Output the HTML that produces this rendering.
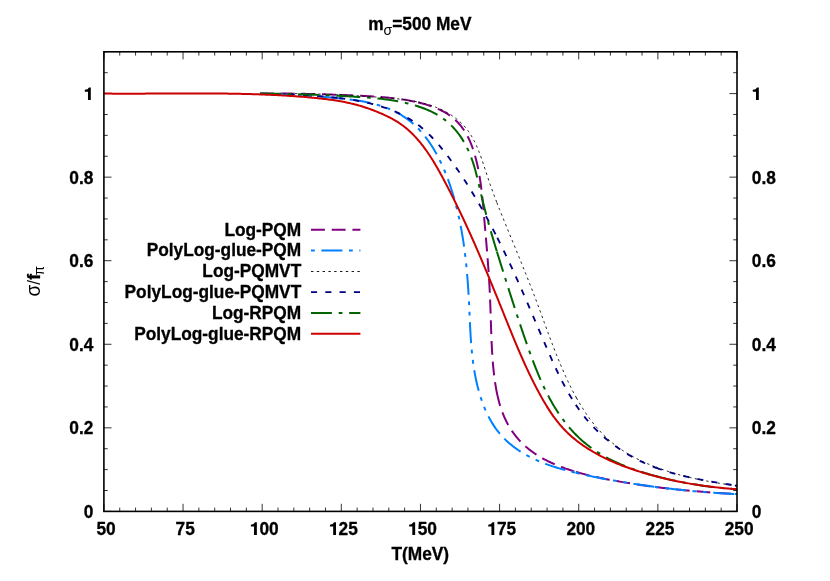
<!DOCTYPE html>
<html><head><meta charset="utf-8"><title>plot</title>
<style>
html,body{margin:0;padding:0;background:#fff;overflow:hidden}
svg{display:block;will-change:transform}
text{font-family:"Liberation Sans",sans-serif;font-weight:bold;font-size:17.3px;fill:#000;stroke:#000;stroke-width:0.3px}
.sym{stroke:none}
.sym{font-weight:normal}
</style></head><body>
<svg width="830" height="581" viewBox="0 0 830 581">
<rect width="830" height="581" fill="#fff"/>
<path d="M103.90 511.4v-7.6M103.90 51.8v7.6M119.73 511.4v-3.8M119.73 51.8v3.8M135.56 511.4v-3.8M135.56 51.8v3.8M151.38 511.4v-3.8M151.38 51.8v3.8M167.21 511.4v-3.8M167.21 51.8v3.8M183.04 511.4v-7.6M183.04 51.8v7.6M198.87 511.4v-3.8M198.87 51.8v3.8M214.69 511.4v-3.8M214.69 51.8v3.8M230.52 511.4v-3.8M230.52 51.8v3.8M246.35 511.4v-3.8M246.35 51.8v3.8M262.18 511.4v-7.6M262.18 51.8v7.6M278.00 511.4v-3.8M278.00 51.8v3.8M293.83 511.4v-3.8M293.83 51.8v3.8M309.66 511.4v-3.8M309.66 51.8v3.8M325.49 511.4v-3.8M325.49 51.8v3.8M341.31 511.4v-7.6M341.31 51.8v7.6M357.14 511.4v-3.8M357.14 51.8v3.8M372.97 511.4v-3.8M372.97 51.8v3.8M388.80 511.4v-3.8M388.80 51.8v3.8M404.62 511.4v-3.8M404.62 51.8v3.8M420.45 511.4v-7.6M420.45 51.8v7.6M436.28 511.4v-3.8M436.28 51.8v3.8M452.11 511.4v-3.8M452.11 51.8v3.8M467.93 511.4v-3.8M467.93 51.8v3.8M483.76 511.4v-3.8M483.76 51.8v3.8M499.59 511.4v-7.6M499.59 51.8v7.6M515.42 511.4v-3.8M515.42 51.8v3.8M531.24 511.4v-3.8M531.24 51.8v3.8M547.07 511.4v-3.8M547.07 51.8v3.8M562.90 511.4v-3.8M562.90 51.8v3.8M578.73 511.4v-7.6M578.73 51.8v7.6M594.55 511.4v-3.8M594.55 51.8v3.8M610.38 511.4v-3.8M610.38 51.8v3.8M626.21 511.4v-3.8M626.21 51.8v3.8M642.03 511.4v-3.8M642.03 51.8v3.8M657.86 511.4v-7.6M657.86 51.8v7.6M673.69 511.4v-3.8M673.69 51.8v3.8M689.52 511.4v-3.8M689.52 51.8v3.8M705.35 511.4v-3.8M705.35 51.8v3.8M721.17 511.4v-3.8M721.17 51.8v3.8M737.00 511.4v-7.6M737.00 51.8v7.6M103.9 511.40h7.6M737.0 511.40h-7.6M103.9 490.51h3.8M737.0 490.51h-3.8M103.9 469.62h3.8M737.0 469.62h-3.8M103.9 448.73h3.8M737.0 448.73h-3.8M103.9 427.84h7.6M737.0 427.84h-7.6M103.9 406.95h3.8M737.0 406.95h-3.8M103.9 386.05h3.8M737.0 386.05h-3.8M103.9 365.16h3.8M737.0 365.16h-3.8M103.9 344.27h7.6M737.0 344.27h-7.6M103.9 323.38h3.8M737.0 323.38h-3.8M103.9 302.49h3.8M737.0 302.49h-3.8M103.9 281.60h3.8M737.0 281.60h-3.8M103.9 260.71h7.6M737.0 260.71h-7.6M103.9 239.82h3.8M737.0 239.82h-3.8M103.9 218.93h3.8M737.0 218.93h-3.8M103.9 198.04h3.8M737.0 198.04h-3.8M103.9 177.15h7.6M737.0 177.15h-7.6M103.9 156.25h3.8M737.0 156.25h-3.8M103.9 135.36h3.8M737.0 135.36h-3.8M103.9 114.47h3.8M737.0 114.47h-3.8M103.9 93.58h7.6M737.0 93.58h-7.6M103.9 72.69h3.8M737.0 72.69h-3.8M103.9 51.80h3.8M737.0 51.80h-3.8" stroke="#000" stroke-width="0.8" fill="none"/>
<g><path d="M259.95 93.60L261.44 93.60L262.94 93.60L264.44 93.60L265.94 93.60L267.44 93.60L268.94 93.60L270.44 93.60L271.94 93.60L273.44 93.60L274.94 93.60L276.44 93.60L277.94 93.60L279.44 93.60L280.94 93.60L282.44 93.60L283.94 93.60L285.44 93.60L286.94 93.60L288.44 93.60L289.94 93.60L291.44 93.62L292.94 93.65L294.44 93.67L295.94 93.70L297.44 93.72L298.94 93.75L300.44 93.78L301.93 93.81L303.43 93.84L304.93 93.87L306.43 93.90L307.93 93.93L309.43 93.97L310.93 94.00L312.43 94.04L313.93 94.07L315.43 94.11L316.93 94.15L318.43 94.19L319.93 94.23L321.43 94.27L322.93 94.32L324.43 94.36L325.92 94.41L327.42 94.45L328.92 94.50L330.42 94.55L331.92 94.60L333.42 94.65L334.92 94.70L336.42 94.76L337.92 94.81L339.42 94.87L339.92 94.89" fill="none" stroke="#800080" stroke-width="2" stroke-dasharray="13.9 6.8" stroke-dashoffset="0"/>
<path d="M339.42 94.87L340.92 94.92L342.42 94.98L343.92 95.04L345.41 95.10L346.91 95.17L348.41 95.23L349.91 95.29L351.41 95.36L352.91 95.43L354.41 95.50L355.91 95.57L357.41 95.64L358.91 95.71L360.40 95.79L361.90 95.86L363.40 95.94L364.90 96.02L366.40 96.10L367.90 96.18L369.40 96.27L370.90 96.35L372.40 96.44L373.89 96.54L375.39 96.63L376.89 96.73L378.39 96.84L379.89 96.95L381.38 97.06L382.88 97.18L384.38 97.31L385.88 97.44L387.37 97.58L388.87 97.73L390.36 97.88L391.86 98.04L393.35 98.20L394.85 98.38L396.34 98.56L397.83 98.76L399.33 98.96L400.82 99.17L402.31 99.39L403.80 99.62L405.29 99.86L406.78 100.11L408.27 100.38L409.76 100.65L411.25 100.94L412.74 101.24L414.22 101.55L415.71 101.87L417.19 102.21L418.68 102.56" fill="none" stroke="#800080" stroke-width="2" stroke-dasharray="13.9 6.8" stroke-dashoffset="0"/>
<path d="M418.18 102.44L419.67 102.80L421.14 103.18L422.62 103.57L424.09 103.98L425.55 104.40L427.01 104.84L428.46 105.30L429.90 105.78L431.33 106.27L432.75 106.79L434.16 107.32L435.56 107.88L436.94 108.46L438.31 109.06L439.67 109.68L441.01 110.33L442.33 111.00L443.64 111.70L444.92 112.42L446.19 113.17L447.44 113.94L448.66 114.74L449.87 115.57L451.05 116.43L452.20 117.31L453.33 118.23L454.44 119.17L455.52 120.15L456.57 121.16L457.59 122.20L458.59 123.26L459.56 124.36L460.50 125.48L461.42 126.63L462.30 127.80L463.16 128.99L464.00 130.21L464.80 131.45L465.58 132.72L466.34 134.00L467.06 135.30L467.76 136.61L468.43 137.95L469.08 139.30L469.70 140.66L470.30 142.04L470.88 143.43L471.43 144.83L471.96 146.24L472.48 147.66L472.97 149.09L473.45 150.53L473.90 151.97L474.35 153.41L474.77 154.86L475.18 156.32L475.58 157.78L475.97 159.23L476.34 160.69L476.70 162.16L477.04 163.62L477.38 165.09L477.70 166.56L478.01 168.03L478.31 169.50L478.60 170.98L478.87 172.45L479.14 173.93L479.40 175.41L479.65 176.89L479.89 178.38L480.12 179.86L480.35 181.34L480.56 182.83L480.77 184.32L480.97 185.81L481.16 187.30L481.35 188.79L481.53 190.28L481.71 191.78L481.88 193.27L482.04 194.77L482.20 196.26L482.35 197.76L482.51 199.25L482.65 200.75L482.80 202.25L482.94 203.75L483.08 205.25L483.21 206.75L483.34 208.25L483.48 209.74L483.61 211.24L483.74 212.74L483.87 214.24L483.99 215.74L484.12 217.24L484.25 218.74L484.38 220.24L484.51 221.74L484.64 223.24L484.77 224.74L484.90 226.24L485.03 227.74L485.16 229.23L485.29 230.73L485.42 232.23L485.55 233.73L485.68 235.23L485.81 236.72L485.94 238.22L486.07 239.72L486.20 241.21L486.32 242.71L486.45 244.21L486.57 245.71L486.70 247.20L486.82 248.70L486.95 250.19L487.07 251.69L487.19 253.19L487.31 254.68L487.43 256.18L487.55 257.67L487.66 259.17L487.78 260.67L487.89 262.16L488.00 263.66L488.11 265.15L488.22 266.65L488.33 268.14L488.44 269.64L488.54 271.13L488.64 272.63L488.74 274.12L488.84 275.62L488.94 277.11L489.03 278.61L489.12 280.10L489.21 281.59L489.30 283.09L489.39 284.58L489.47 286.08L489.55 287.57L489.63 289.07L489.71 290.56L489.78 292.05L489.85 293.55L489.92 295.04L489.98 296.54L490.05 298.03L490.11 299.52L490.17 301.02L490.22 302.51L490.28 304.00L490.33 305.50L490.39 306.99L490.44 308.49L490.49 309.98L490.54 311.47L490.59 312.97L490.63 314.46L490.68 315.96L490.73 317.45L490.78 318.95L490.82 320.44L490.87 321.94L490.92 323.43L490.97 324.93L491.01 326.42L491.06 327.92L491.11 329.41L491.17 330.91L491.22 332.40L491.27 333.90L491.33 335.40L491.38 336.89L491.44 338.39L491.50 339.89L491.57 341.39L491.63 342.88L491.70 344.38L491.78 345.88L491.85 347.38L491.93 348.88L492.01 350.38L492.10 351.88L492.19 353.38L492.29 354.88L492.39 356.38L492.49 357.88L492.60 359.38L492.72 360.88L492.84 362.38L492.96 363.89L493.09 365.39L493.23 366.89L493.38 368.40L493.53 369.90L493.69 371.41L493.85 372.91L494.03 374.42L494.21 375.92L494.40 377.43L494.59 378.94L494.80 380.44L495.01 381.95L495.24 383.45L495.47 384.96L495.72 386.46L495.97 387.95L496.24 389.45L496.52 390.94L496.82 392.43L496.92 392.93" fill="none" stroke="#800080" stroke-width="2" stroke-dasharray="13.9 6.8" stroke-dashoffset="0"/>
<path d="M496.82 392.43L497.12 393.92L497.45 395.40L497.78 396.87L498.13 398.34L498.49 399.81L498.87 401.27L499.27 402.72L499.68 404.17L500.11 405.61L500.56 407.04L501.03 408.46L501.51 409.88L502.01 411.29L502.54 412.69L503.08 414.07L503.64 415.45L504.22 416.82L504.83 418.18L505.46 419.53L506.11 420.87L506.78 422.19L507.47 423.51L508.19 424.81L508.93 426.09L509.69 427.37L510.47 428.63L511.28 429.88L512.10 431.11L512.95 432.33L513.81 433.53L514.70 434.72L515.61 435.89L516.54 437.04L517.49 438.18L518.46 439.30L519.45 440.41L520.46 441.49L521.49 442.56L522.53 443.61L523.60 444.64L524.69 445.65L525.79 446.64L526.92 447.61L528.06 448.56L529.22 449.49L530.40 450.41L531.59 451.30L532.80 452.17L534.02 453.03L535.26 453.87L536.51 454.69L537.78 455.49L539.05 456.28L540.34 457.05L541.65 457.80L542.96 458.54L544.28 459.26L545.62 459.96L546.96 460.65L548.31 461.32L549.67 461.98L551.04 462.63L552.42 463.26L553.80 463.87L555.19 464.47L556.58 465.06L557.98 465.64L559.38 466.20L560.78 466.75L562.19 467.28L563.60 467.81L565.02 468.32L566.43 468.82L567.85 469.31L569.28 469.79L570.70 470.26L572.13 470.71L573.56 471.16L574.99 471.60L576.43 472.02" fill="none" stroke="#800080" stroke-width="2" stroke-dasharray="13.9 6.8" stroke-dashoffset="0"/>
<path d="M575.95 471.88L577.38 472.30L578.82 472.71L580.26 473.12L581.70 473.51L583.15 473.90L584.59 474.28L586.04 474.64L587.49 475.01L588.94 475.36L590.40 475.71L591.85 476.05L593.31 476.39L594.77 476.71L596.23 477.04L597.69 477.35L599.15 477.67L600.61 477.97L602.08 478.28L603.54 478.57L605.01 478.87L606.47 479.16L607.94 479.44L609.41 479.73L610.88 480.00L612.35 480.28L613.82 480.55L615.30 480.82L616.77 481.09L618.24 481.35L619.72 481.61L621.19 481.87L622.67 482.12L624.14 482.37L625.62 482.62L627.10 482.87L628.58 483.11L630.05 483.35L631.53 483.58L633.01 483.81L634.49 484.04L635.98 484.27L637.46 484.50L638.94 484.72L640.42 484.94L641.91 485.15L643.39 485.36L644.88 485.57L646.36 485.78L647.85 485.99L649.33 486.19L650.82 486.39L652.31 486.58L653.79 486.78L655.28 486.97L655.78 487.03" fill="none" stroke="#800080" stroke-width="2" stroke-dasharray="13.9 6.8" stroke-dashoffset="0"/>
<path d="M655.28 486.97L656.77 487.16L658.26 487.34L659.75 487.53L661.24 487.71L662.73 487.89L664.22 488.06L665.71 488.24L667.20 488.41L668.69 488.58L670.18 488.74L671.68 488.91L673.17 489.07L674.66 489.23L676.16 489.38L677.65 489.54L679.14 489.69L680.64 489.84L682.13 489.99L683.63 490.14L685.12 490.28L686.62 490.42L688.11 490.56L689.61 490.70L691.10 490.83L692.60 490.97L694.09 491.10L695.59 491.23L697.09 491.36L698.58 491.48L700.08 491.61L701.58 491.73L703.07 491.85L704.57 491.96L706.07 492.08L707.56 492.19L709.06 492.31L710.56 492.42L712.05 492.53L713.55 492.63L715.05 492.74L716.54 492.84L718.04 492.95L719.54 493.05L721.04 493.15L722.53 493.24L724.03 493.34L725.53 493.43L727.02 493.53L728.52 493.62L730.02 493.71L731.51 493.79L733.01 493.88L734.51 493.97L735.50 494.02" fill="none" stroke="#800080" stroke-width="2" stroke-dasharray="13.9 6.8" stroke-dashoffset="0"/>
<path d="M735.00 493.99L736.50 494.08L737.00 494.11" fill="none" stroke="#800080" stroke-width="2" stroke-dasharray="13.9 6.8" stroke-dashoffset="0"/>
<path d="M259.90 93.77L261.39 93.81L262.87 93.85L264.36 93.88L265.85 93.93L267.33 93.97L268.82 94.01L270.31 94.06L271.79 94.10L273.28 94.15L274.77 94.20L276.26 94.25L277.75 94.31L279.23 94.36L280.72 94.42L282.21 94.48L283.70 94.54L285.19 94.60L286.68 94.67L288.17 94.73L289.66 94.80L291.15 94.87L292.64 94.95L294.14 95.02L295.63 95.10L297.12 95.17L298.62 95.26L300.11 95.34L301.61 95.42L303.10 95.51L304.60 95.60L306.10 95.69L307.60 95.78L309.10 95.88L310.60 95.98L312.10 96.08L313.60 96.18L315.10 96.28L316.61 96.39L318.11 96.50L319.62 96.61L321.13 96.73L322.63 96.84L324.14 96.96L325.65 97.08L327.17 97.21L328.68 97.33L330.19 97.46L331.71 97.60L333.22 97.73L334.74 97.87L336.26 98.01L337.78 98.15L339.30 98.30L339.81 98.35" fill="none" stroke="#0080FF" stroke-width="2" stroke-dasharray="21 6.6 3.8 6.6 3.8 6.6" stroke-dashoffset="38.0"/>
<path d="M339.30 98.30L340.82 98.45L342.34 98.61L343.86 98.77L345.38 98.94L346.90 99.11L348.42 99.29L349.94 99.48L351.45 99.67L352.97 99.88L354.48 100.09L355.99 100.31L357.49 100.54L358.99 100.78L360.49 101.03L361.99 101.29L363.48 101.56L364.97 101.85L366.45 102.15L367.93 102.46L369.40 102.78L370.87 103.12L372.33 103.47L373.78 103.84L375.23 104.22L376.67 104.62L378.11 105.03L379.53 105.46L380.95 105.91L382.37 106.37L383.77 106.85L385.17 107.36L386.56 107.88L387.93 108.42L389.30 108.98L390.66 109.56L392.01 110.16L393.35 110.78L394.68 111.43L396.00 112.09L397.31 112.78L398.60 113.49L399.89 114.23L401.16 114.98L402.42 115.76L403.66 116.55L404.89 117.37L406.11 118.21L407.31 119.07L408.50 119.95L409.67 120.85L410.82 121.78L411.96 122.72L413.08 123.68L414.18 124.67L415.27 125.67L416.34 126.69L417.39 127.74L418.43 128.79L418.77 129.15" fill="none" stroke="#0080FF" stroke-width="2" stroke-dasharray="21 6.6 3.8 6.6 3.8 6.6" stroke-dashoffset="38.0"/>
<path d="M418.43 128.79L419.45 129.87L420.45 130.96L421.44 132.07L422.41 133.20L423.37 134.34L424.31 135.50L425.24 136.67L426.15 137.86L427.05 139.06L427.93 140.27L428.80 141.50L429.65 142.74L430.49 143.99L431.32 145.25L432.13 146.52L432.93 147.80L433.71 149.10L434.48 150.40L435.24 151.71L435.99 153.03L436.72 154.36L437.44 155.70L438.14 157.04L438.84 158.39L439.52 159.74L440.19 161.10L440.85 162.47L441.50 163.84L442.13 165.22L442.76 166.60L443.37 167.98L443.97 169.37L444.56 170.76L445.14 172.16L445.71 173.56L446.27 174.97L446.82 176.38L447.36 177.79L447.90 179.20L448.42 180.62L448.93 182.04L449.43 183.47L449.92 184.89L450.41 186.32L450.88 187.75L451.35 189.19L451.80 190.62L452.25 192.06L452.70 193.50L453.13 194.94L453.56 196.38L453.97 197.82L454.38 199.27L454.79 200.71L455.18 202.16L455.57 203.61L455.95 205.06L456.33 206.51L456.70 207.96L457.05 209.42L457.41 210.87L457.75 212.33L458.09 213.79L458.43 215.24L458.75 216.70L459.07 218.16L459.38 219.63L459.69 221.09L459.99 222.55L460.29 224.02L460.57 225.49L460.86 226.95L461.13 228.42L461.40 229.89L461.67 231.36L461.92 232.83L462.18 234.31L462.42 235.78L462.66 237.26L462.90 238.73L463.13 240.21L463.36 241.68L463.58 243.16L463.79 244.64L464.00 246.12L464.21 247.60L464.41 249.09L464.60 250.57L464.79 252.05L464.98 253.54L465.16 255.02L465.34 256.51L465.51 257.99L465.68 259.48L465.84 260.97L466.00 262.46L466.16 263.95L466.31 265.44L466.46 266.93L466.60 268.42L466.74 269.91L466.87 271.41L467.01 272.90L467.14 274.39L467.26 275.89L467.38 277.38L467.50 278.88L467.62 280.38L467.73 281.87L467.84 283.37L467.94 284.87L468.05 286.37L468.15 287.87L468.25 289.36L468.34 290.86L468.43 292.36L468.52 293.87L468.61 295.37L468.69 296.87L468.78 298.37L468.86 299.87L468.94 301.37L469.01 302.88L469.09 304.38L469.16 305.88L469.23 307.39L469.30 308.89L469.37 310.39L469.44 311.90L469.50 313.40L469.57 314.91L469.64 316.41L469.71 317.92L469.77 319.42L469.84 320.92L469.91 322.43L469.99 323.93L470.06 325.43L470.13 326.94L470.21 328.44L470.29 329.94L470.37 331.44L470.46 332.95L470.55 334.45L470.64 335.95L470.73 337.45L470.83 338.95L470.94 340.45L471.04 341.94L471.15 343.44L471.27 344.94L471.39 346.44L471.52 347.93L471.65 349.42L471.79 350.92L471.94 352.41L472.09 353.90L472.25 355.39L472.41 356.88L472.59 358.37L472.77 359.86L472.95 361.34L473.15 362.83L473.35 364.31L473.57 365.79L473.79 367.28L474.02 368.75L474.25 370.23L474.50 371.71L474.76 373.19L475.03 374.66L475.31 376.13L475.60 377.60L475.90 379.07L476.21 380.54L476.53 382.00L476.86 383.47L477.21 384.93L477.56 386.39L477.93 387.85L478.31 389.30L478.71 390.76L479.12 392.21L479.54 393.66L479.97 395.11L480.42 396.55L480.88 397.99L481.36 399.42L481.85 400.85L482.35 402.27L482.88 403.69L483.41 405.10L483.96 406.50L484.53 407.90L485.12 409.29L485.72 410.66L486.33 412.03L486.97 413.39L487.62 414.74L488.29 416.08L488.98 417.41L489.68 418.73L490.41 420.04L491.15 421.33L491.91 422.61L492.69 423.88L493.49 425.13L494.31 426.37L495.15 427.60L496.00 428.81L496.88 430.00L497.78 431.18" fill="none" stroke="#0080FF" stroke-width="2" stroke-dasharray="21 6.6 3.8 6.6 3.8 6.6" stroke-dashoffset="38.0"/>
<path d="M497.48 430.79L498.40 431.95L499.33 433.10L500.29 434.24L501.27 435.35L502.26 436.45L503.28 437.53L504.32 438.59L505.37 439.64L506.45 440.66L507.54 441.67L508.65 442.67L509.78 443.64L510.92 444.60L512.08 445.54L513.25 446.47L514.44 447.37L515.65 448.26L516.86 449.13L518.09 449.99L519.34 450.83L520.59 451.65L521.86 452.45L523.14 453.23L524.43 454.00L525.73 454.75L527.04 455.49L528.36 456.20L529.69 456.90L531.03 457.59L532.38 458.25L533.73 458.90L535.10 459.54L536.47 460.16L537.84 460.77L539.23 461.36L540.62 461.94L542.02 462.50L543.42 463.05L544.83 463.59L546.25 464.12L547.67 464.63L549.09 465.14L550.52 465.63L551.96 466.11L553.40 466.58L554.84 467.04L556.28 467.49L557.73 467.93L559.18 468.36L560.64 468.79L562.09 469.20L563.55 469.61L565.01 470.01L566.47 470.40L567.94 470.79L569.40 471.17L570.86 471.55L572.33 471.92L573.79 472.28L575.25 472.64L576.23 472.88" fill="none" stroke="#0080FF" stroke-width="2" stroke-dasharray="21 6.6 3.8 6.6 3.8 6.6" stroke-dashoffset="38.0"/>
<path d="M575.74 472.76L577.20 473.11L578.67 473.46L580.13 473.80L581.59 474.14L583.06 474.47L584.52 474.80L585.99 475.13L587.45 475.45L588.91 475.77L590.38 476.08L591.84 476.39L593.31 476.69L594.77 476.99L596.24 477.29L597.70 477.58L599.17 477.87L600.63 478.15L602.10 478.43L603.56 478.71L605.03 478.99L606.50 479.26L607.97 479.53L609.43 479.79L610.90 480.05L612.37 480.31L613.84 480.57L615.31 480.82L616.78 481.08L618.25 481.32L619.73 481.57L621.20 481.81L622.67 482.05L624.15 482.29L625.62 482.53L627.10 482.76L628.57 483.00L630.05 483.23L631.53 483.46L633.01 483.68L634.49 483.91L635.97 484.13L637.45 484.35L638.93 484.57L640.41 484.79L641.89 485.00L643.38 485.21L644.86 485.42L646.35 485.63L647.83 485.84L649.32 486.04L650.80 486.25L652.29 486.45L653.78 486.65L655.27 486.84" fill="none" stroke="#0080FF" stroke-width="2" stroke-dasharray="21 6.6 3.8 6.6 3.8 6.6" stroke-dashoffset="38.0"/>
<path d="M654.77 486.78L656.26 486.97L657.75 487.16L659.24 487.35L660.73 487.54L662.22 487.73L663.71 487.91L665.20 488.09L666.69 488.27L668.18 488.45L669.67 488.63L671.17 488.80L672.66 488.97L674.15 489.14L675.65 489.31L677.14 489.47L678.64 489.63L680.13 489.79L681.63 489.95L683.12 490.11L684.62 490.26L686.11 490.41L687.61 490.56L689.11 490.70L690.60 490.85L692.10 490.99L693.60 491.13L695.09 491.27L696.59 491.40L698.09 491.53L699.58 491.66L701.08 491.79L702.58 491.91L704.08 492.04L705.57 492.16L707.07 492.27L708.57 492.39L710.06 492.50L711.56 492.61L713.06 492.72L714.56 492.82L716.05 492.93L717.55 493.03L719.05 493.13L720.54 493.22L722.04 493.31L723.54 493.40L725.03 493.49L726.53 493.58L728.03 493.66L729.52 493.74L731.02 493.82L732.51 493.89L734.01 493.96L735.50 494.03" fill="none" stroke="#0080FF" stroke-width="2" stroke-dasharray="21 6.6 3.8 6.6 3.8 6.6" stroke-dashoffset="38.0"/>
<path d="M735.01 494.01L736.50 494.08L737.00 494.10" fill="none" stroke="#0080FF" stroke-width="2" stroke-dasharray="21 6.6 3.8 6.6 3.8 6.6" stroke-dashoffset="38.0"/>
<path d="M260.27 93.60L261.77 93.60L263.26 93.60L264.76 93.60L266.26 93.60L267.76 93.60L269.25 93.60L270.75 93.60L272.25 93.60L273.75 93.60L275.25 93.60L276.75 93.60L278.24 93.60L279.74 93.60L281.24 93.60L282.74 93.60L284.24 93.60L285.74 93.60L287.24 93.60L288.74 93.60L290.23 93.60L291.73 93.60L293.23 93.60L294.73 93.60L296.23 93.60L297.73 93.60L299.23 93.60L300.73 93.62L302.23 93.66L303.73 93.69L305.24 93.73L306.74 93.76L308.24 93.80L309.74 93.84L311.24 93.88L312.74 93.92L314.24 93.96L315.74 94.00L317.25 94.05L318.75 94.10L320.25 94.14L321.75 94.19L323.26 94.24L324.76 94.29L326.26 94.35L327.77 94.40L329.27 94.46L330.77 94.52L332.28 94.58L333.78 94.64L335.28 94.70L336.79 94.76L338.29 94.83L339.80 94.89" fill="none" stroke="#000" stroke-width="0.9" stroke-dasharray="2.4 3.4" stroke-dashoffset="0"/>
<path d="M339.30 94.87L340.80 94.94L342.31 95.01L343.81 95.08L345.32 95.15L346.83 95.22L348.33 95.30L349.84 95.38L351.34 95.46L352.85 95.54L354.36 95.62L355.87 95.70L357.37 95.79L358.88 95.88L360.39 95.97L361.90 96.06L363.41 96.15L364.92 96.24L366.43 96.34L367.93 96.44L369.44 96.54L370.95 96.64L372.46 96.74L373.98 96.85L375.49 96.96L377.00 97.07L378.51 97.18L380.02 97.29L381.53 97.41L383.04 97.53L384.56 97.65L386.07 97.77L387.58 97.89L389.09 98.02L390.61 98.16L392.12 98.29L393.62 98.44L395.13 98.59L396.64 98.74L398.14 98.90L399.64 99.07L401.14 99.25L402.64 99.44L404.14 99.63L405.63 99.83L407.12 100.05L408.60 100.27L410.08 100.51L411.56 100.75L413.03 101.01L414.50 101.28L415.97 101.56L417.43 101.86L418.88 102.17" fill="none" stroke="#000" stroke-width="0.9" stroke-dasharray="2.4 3.4" stroke-dashoffset="0"/>
<path d="M418.40 102.07L419.85 102.39L421.29 102.72L422.73 103.07L424.17 103.44L425.60 103.83L427.02 104.23L428.43 104.65L429.84 105.09L431.24 105.55L432.64 106.03L434.03 106.53L435.40 107.04L436.78 107.59L438.14 108.15L439.49 108.74L440.84 109.34L442.18 109.98L443.51 110.64L444.82 111.32L446.13 112.03L447.43 112.76L448.72 113.52L450.00 114.31L451.27 115.13L452.53 115.97L453.78 116.84L455.01 117.74L456.22 118.67L457.41 119.62L458.58 120.60L459.72 121.60L460.84 122.62L461.93 123.67L462.99 124.74L464.01 125.83L465.00 126.95L465.95 128.08L466.87 129.24L467.75 130.41L468.61 131.60L469.44 132.81L470.24 134.04L471.02 135.29L471.77 136.55L472.50 137.82L473.21 139.11L473.90 140.42L474.57 141.73L475.23 143.06L475.86 144.41L476.48 145.76L477.08 147.12L477.67 148.50L478.25 149.88L478.81 151.28L479.36 152.68L479.89 154.09L480.42 155.50L480.94 156.93L481.45 158.35L481.95 159.79L482.44 161.22L482.93 162.66L483.41 164.11L483.89 165.55L484.36 167.00L484.84 168.45L485.31 169.90L485.78 171.34L486.25 172.79L486.72 174.24L487.19 175.68L487.67 177.12L488.15 178.56L488.63 179.99L489.12 181.42L489.61 182.85L490.10 184.27L490.60 185.69L491.11 187.11L491.61 188.52L492.12 189.94L492.63 191.34L493.15 192.75L493.67 194.15L494.19 195.55L494.71 196.95L495.24 198.35L495.77 199.74L496.31 201.13L496.84 202.52L497.02 202.99" fill="none" stroke="#000" stroke-width="0.9" stroke-dasharray="2.4 3.4" stroke-dashoffset="0"/>
<path d="M496.84 202.52L497.38 203.91L497.92 205.30L498.46 206.69L499.01 208.07L499.55 209.46L500.10 210.84L500.65 212.22L501.21 213.60L501.76 214.98L502.32 216.36L502.88 217.74L503.44 219.12L504.00 220.50L504.56 221.88L505.12 223.26L505.69 224.64L506.25 226.02L506.82 227.40L507.39 228.79L507.96 230.17L508.52 231.55L509.09 232.94L509.66 234.32L510.23 235.71L510.80 237.09L511.38 238.48L511.95 239.87L512.52 241.26L513.09 242.65L513.66 244.04L514.24 245.43L514.81 246.82L515.38 248.21L515.95 249.60L516.53 251.00L517.10 252.39L517.67 253.79L518.24 255.18L518.81 256.58L519.38 257.97L519.95 259.37L520.52 260.77L521.09 262.17L521.66 263.56L522.23 264.96L522.79 266.36L523.36 267.76L523.92 269.16L524.49 270.56L525.05 271.96L525.61 273.36L526.17 274.76L526.73 276.17L527.29 277.57L527.85 278.97L528.40 280.37L528.96 281.77L529.51 283.18L530.06 284.58L530.61 285.98L531.16 287.39L531.71 288.79L532.25 290.19L532.79 291.59L533.33 293.00L533.87 294.40L534.41 295.81L534.94 297.21L535.47 298.61L536.00 300.02L536.53 301.42L537.06 302.82L537.58 304.23L538.10 305.63L538.62 307.03L539.14 308.43L539.66 309.84L540.18 311.24L540.69 312.64L541.21 314.04L541.72 315.45L542.23 316.85L542.74 318.25L543.26 319.65L543.77 321.05L544.28 322.45L544.79 323.85L545.30 325.25L545.82 326.65L546.33 328.05L546.84 329.45L547.36 330.84L547.87 332.24L548.39 333.64L548.91 335.03L549.43 336.43L549.95 337.83L550.47 339.22L550.99 340.61L551.52 342.01L552.05 343.40L552.58 344.79L553.11 346.19L553.65 347.58L554.19 348.97L554.73 350.36L555.27 351.75L555.82 353.13L556.37 354.52L556.93 355.91L557.48 357.29L558.05 358.68L558.61 360.06L559.18 361.45L559.76 362.83L560.34 364.21L560.92 365.59L561.51 366.97L562.10 368.35L562.70 369.73L563.30 371.11L563.91 372.48L564.52 373.86L565.14 375.23L565.76 376.60L566.40 377.97L567.03 379.34L567.67 380.71L568.32 382.08L568.98 383.44L569.64 384.80L570.31 386.16L570.98 387.52L571.67 388.87L572.36 390.22L573.05 391.56L573.76 392.90L574.47 394.24L575.19 395.57L575.91 396.90L576.65 398.22" fill="none" stroke="#000" stroke-width="0.9" stroke-dasharray="2.4 3.4" stroke-dashoffset="0"/>
<path d="M576.40 397.78L577.14 399.10L577.89 400.41L578.65 401.72L579.41 403.02L580.19 404.32L580.97 405.61L581.76 406.89L582.56 408.17L583.37 409.44L584.19 410.70L585.01 411.95L585.85 413.20L586.70 414.44L587.55 415.67L588.42 416.89L589.30 418.11L590.18 419.31L591.08 420.51L591.99 421.69L592.91 422.87L593.84 424.03L594.78 425.19L595.73 426.34L596.69 427.47L597.66 428.60L598.65 429.71L599.64 430.81L600.65 431.90L601.67 432.98L602.70 434.05L603.75 435.10L604.80 436.14L605.87 437.17L606.95 438.18L608.05 439.19L609.16 440.18L610.28 441.15L611.41 442.11L612.55 443.06L613.71 443.99L614.89 444.91L616.07 445.81L617.27 446.70L618.47 447.58L619.69 448.44L620.93 449.29L622.17 450.13L623.42 450.95L624.68 451.76L625.96 452.56L627.24 453.35L628.53 454.12L629.83 454.88L631.14 455.62L632.46 456.36L633.79 457.08L635.12 457.79L636.47 458.49L637.81 459.18L639.17 459.85L640.53 460.52L641.90 461.17L643.28 461.81L644.66 462.44L646.05 463.06L647.44 463.67L648.84 464.27L650.24 464.86L651.64 465.44L653.05 466.00L654.47 466.56L655.88 467.11L656.36 467.29" fill="none" stroke="#000" stroke-width="0.9" stroke-dasharray="2.4 3.4" stroke-dashoffset="0"/>
<path d="M655.88 467.11L657.30 467.64L658.73 468.17L660.15 468.69L661.58 469.20L663.01 469.70L664.44 470.19L665.87 470.67L667.30 471.14L668.73 471.60L670.17 472.06L671.60 472.50L673.04 472.94L674.47 473.37L675.91 473.79L677.34 474.20L678.78 474.61L680.22 475.01L681.66 475.40L683.10 475.78L684.54 476.15L685.98 476.52L687.42 476.88L688.87 477.23L690.31 477.58L691.76 477.92L693.20 478.25L694.65 478.58L696.10 478.90L697.55 479.22L699.01 479.53L700.46 479.83L701.92 480.12L703.38 480.42L704.84 480.70L706.30 480.98L707.76 481.26L709.23 481.53L710.70 481.79L712.16 482.05L713.64 482.31L715.11 482.56L716.59 482.81L718.06 483.05L719.54 483.29L721.03 483.52L722.51 483.75L724.00 483.98L725.49 484.20L726.98 484.42L728.48 484.63L729.98 484.84L731.48 485.05L732.98 485.26L734.49 485.46L735.49 485.60" fill="none" stroke="#000" stroke-width="0.9" stroke-dasharray="2.4 3.4" stroke-dashoffset="0"/>
<path d="M734.99 485.53L736.50 485.73L737.00 485.80" fill="none" stroke="#000" stroke-width="0.9" stroke-dasharray="2.4 3.4" stroke-dashoffset="0"/>
<path d="M260.01 93.87L261.51 93.88L263.01 93.90L264.51 93.92L266.02 93.94L267.52 93.96L269.02 93.98L270.52 94.01L272.02 94.03L273.53 94.06L275.03 94.09L276.53 94.12L278.03 94.16L279.54 94.19L281.04 94.23L282.54 94.27L284.04 94.31L285.54 94.36L287.05 94.40L288.55 94.45L290.05 94.51L291.55 94.56L293.05 94.62L294.56 94.68L296.06 94.74L297.56 94.81L299.06 94.88L300.56 94.95L302.07 95.03L303.57 95.10L305.07 95.19L306.57 95.27L308.07 95.36L309.57 95.45L311.08 95.55L312.58 95.65L314.08 95.75L315.58 95.86L317.08 95.97L318.58 96.08L320.08 96.20L321.59 96.33L323.09 96.45L324.59 96.58L326.09 96.72L327.59 96.86L329.09 97.00L330.59 97.15L332.09 97.31L333.59 97.46L335.09 97.63L336.59 97.79L338.10 97.97L339.60 98.15" fill="none" stroke="#000080" stroke-width="1.85" stroke-dasharray="6.1 8.2" stroke-dashoffset="0"/>
<path d="M339.10 98.09L340.59 98.27L342.09 98.45L343.59 98.65L345.09 98.85L346.58 99.05L348.08 99.27L349.57 99.49L351.06 99.71L352.55 99.95L354.03 100.19L355.52 100.44L357.00 100.70L358.48 100.97L359.95 101.24L361.43 101.53L362.89 101.82L364.36 102.13L365.82 102.44L367.28 102.76L368.74 103.10L370.19 103.44L371.63 103.80L373.08 104.16L374.51 104.54L375.95 104.93L377.37 105.33L378.80 105.74L380.21 106.17L381.62 106.61L383.03 107.06L384.43 107.52L385.82 107.99L387.21 108.48L388.59 108.99L389.97 109.50L391.34 110.04L392.70 110.58L394.05 111.14L395.40 111.72L396.74 112.31L398.07 112.92L399.40 113.54L400.71 114.18L402.02 114.83L403.32 115.50L404.61 116.19L405.90 116.89L407.17 117.62L408.44 118.36L409.69 119.11L410.94 119.89L412.18 120.68L413.40 121.49L414.62 122.32L415.83 123.17L417.03 124.04L418.22 124.93L418.61 125.23" fill="none" stroke="#000080" stroke-width="1.85" stroke-dasharray="6.1 8.2" stroke-dashoffset="0"/>
<path d="M418.22 124.93L419.39 125.84L420.56 126.76L421.71 127.71L422.86 128.68L423.99 129.66L425.12 130.66L426.23 131.68L427.33 132.72L428.43 133.77L429.51 134.84L430.59 135.92L431.65 137.01L432.71 138.12L433.75 139.24L434.79 140.37L435.82 141.52L436.84 142.67L437.85 143.83L438.85 145.00L439.84 146.18L440.83 147.37L441.80 148.56L442.77 149.76L443.73 150.97L444.69 152.18L445.63 153.40L446.57 154.61L447.50 155.84L448.43 157.06L449.34 158.28L450.25 159.51L451.16 160.74L452.05 161.97L452.94 163.20L453.83 164.43L454.71 165.66L455.58 166.89L456.44 168.12L457.30 169.36L458.15 170.60L459.00 171.83L459.85 173.07L460.68 174.31L461.52 175.56L462.34 176.80L463.16 178.05L463.98 179.30L464.80 180.55L465.60 181.80L466.41 183.05L467.21 184.31L468.00 185.57L468.80 186.83L469.58 188.09L470.37 189.36L471.15 190.63L471.93 191.90L472.70 193.17L473.47 194.44L474.24 195.72L475.01 197.00L475.77 198.29L476.53 199.57L477.28 200.86L478.04 202.15L478.79 203.45L479.53 204.74L480.28 206.04L481.02 207.34L481.76 208.64L482.50 209.95L483.23 211.25L483.96 212.56L484.69 213.87L485.41 215.19L486.13 216.50L486.85 217.82L487.57 219.14L488.28 220.46L489.00 221.78L489.70 223.11L490.41 224.43L491.11 225.76L491.81 227.09L492.51 228.42L493.21 229.75L493.90 231.09L494.59 232.42L495.28 233.76L495.96 235.10L496.64 236.44L497.32 237.78L497.55 238.22" fill="none" stroke="#000080" stroke-width="1.85" stroke-dasharray="6.1 8.2" stroke-dashoffset="0"/>
<path d="M497.32 237.78L498.00 239.12L498.68 240.46L499.35 241.81L500.02 243.15L500.69 244.50L501.35 245.85L502.02 247.19L502.68 248.54L503.33 249.89L503.99 251.25L504.64 252.60L505.29 253.95L505.94 255.30L506.59 256.66L507.23 258.01L507.87 259.37L508.51 260.72L509.15 262.08L509.79 263.44L510.42 264.80L511.05 266.15L511.68 267.51L512.30 268.87L512.93 270.23L513.55 271.59L514.17 272.95L514.79 274.31L515.40 275.67L516.02 277.03L516.63 278.39L517.24 279.75L517.85 281.11L518.46 282.48L519.07 283.84L519.67 285.20L520.28 286.56L520.88 287.93L521.48 289.29L522.08 290.66L522.68 292.02L523.28 293.39L523.87 294.76L524.47 296.12L525.06 297.49L525.66 298.86L526.25 300.23L526.84 301.59L527.43 302.96L528.02 304.33L528.62 305.70L529.20 307.07L529.79 308.45L530.38 309.82L530.97 311.19L531.56 312.56L532.15 313.94L532.74 315.31L533.32 316.69L533.91 318.06L534.50 319.44L535.09 320.81L535.67 322.19L536.26 323.57L536.85 324.95L537.44 326.32L538.03 327.70L538.62 329.08L539.21 330.47L539.80 331.85L540.39 333.23L540.98 334.61L541.57 336.00L542.16 337.38L542.76 338.76L543.35 340.15L543.94 341.54L544.54 342.92L545.14 344.31L545.74 345.70L546.34 347.09L546.94 348.48L547.54 349.87L548.14 351.26L548.75 352.65L549.36 354.04L549.97 355.43L550.58 356.81L551.19 358.20L551.81 359.59L552.43 360.97L553.06 362.36L553.69 363.74L554.32 365.12L554.95 366.50L555.59 367.88L556.24 369.25L556.88 370.63L557.53 372.00L558.19 373.36L558.85 374.73L559.52 376.09L560.19 377.45L560.87 378.80L561.55 380.15L562.24 381.50L562.93 382.84L563.63 384.18L564.34 385.51L565.05 386.84L565.77 388.17L566.50 389.49L567.24 390.80L567.98 392.11L568.73 393.42L569.48 394.72L570.25 396.01L571.02 397.29L571.80 398.57L572.59 399.85L573.38 401.12L574.19 402.38L575.00 403.63L575.83 404.88L576.10 405.29" fill="none" stroke="#000080" stroke-width="1.85" stroke-dasharray="6.1 8.2" stroke-dashoffset="0"/>
<path d="M575.83 404.88L576.66 406.12L577.50 407.35L578.35 408.57L579.22 409.79L580.09 411.00L580.97 412.20L581.86 413.39L582.77 414.58L583.68 415.75L584.60 416.92L585.54 418.07L586.49 419.22L587.44 420.36L588.41 421.49L589.39 422.61L590.39 423.72L591.39 424.82L592.40 425.91L593.42 426.99L594.46 428.06L595.50 429.13L596.56 430.18L597.62 431.22L598.70 432.25L599.78 433.27L600.88 434.29L601.98 435.29L603.10 436.28L604.22 437.26L605.35 438.23L606.49 439.19L607.64 440.14L608.80 441.08L609.97 442.01L611.15 442.93L612.33 443.84L613.53 444.74L614.73 445.63L615.94 446.50L617.16 447.37L618.39 448.22L619.62 449.07L620.86 449.90L622.11 450.72L623.37 451.54L624.64 452.34L625.91 453.12L627.19 453.90L628.47 454.67L629.77 455.42L631.07 456.17L632.37 456.90L633.68 457.62L635.00 458.33L636.33 459.03L637.66 459.71L639.00 460.39L640.34 461.05L641.69 461.70L643.05 462.34L644.41 462.97L645.77 463.59L647.14 464.19L648.52 464.78L649.90 465.36L651.29 465.93L652.68 466.48L654.08 467.03L655.48 467.56L656.41 467.91" fill="none" stroke="#000080" stroke-width="1.85" stroke-dasharray="6.1 8.2" stroke-dashoffset="0"/>
<path d="M655.94 467.74L657.35 468.25L658.76 468.76L660.18 469.25L661.60 469.74L663.02 470.22L664.45 470.68L665.88 471.14L667.31 471.58L668.75 472.02L670.19 472.44L671.63 472.86L673.08 473.27L674.53 473.67L675.98 474.06L677.44 474.45L678.90 474.83L680.36 475.19L681.82 475.56L683.29 475.91L684.75 476.26L686.22 476.60L687.69 476.93L689.17 477.26L690.64 477.58L692.12 477.90L693.60 478.21L695.08 478.51L696.56 478.81L698.04 479.11L699.52 479.40L701.00 479.68L702.49 479.96L703.97 480.24L705.45 480.51L706.94 480.78L708.42 481.05L709.91 481.31L711.39 481.57L712.88 481.82L714.36 482.08L715.85 482.33L717.33 482.58L718.81 482.83L720.30 483.07L721.78 483.32L723.26 483.56L724.74 483.80L726.22 484.04L727.69 484.28L729.17 484.52L730.64 484.76L732.11 485.01L733.58 485.25L735.05 485.49L735.54 485.57" fill="none" stroke="#000080" stroke-width="1.85" stroke-dasharray="6.1 8.2" stroke-dashoffset="0"/>
<path d="M735.05 485.49L736.52 485.73L737.00 485.81" fill="none" stroke="#000080" stroke-width="1.85" stroke-dasharray="6.1 8.2" stroke-dashoffset="0"/>
<path d="M259.91 93.60L261.41 93.60L262.91 93.60L264.41 93.60L265.91 93.60L267.40 93.62L268.90 93.64L270.40 93.67L271.90 93.69L273.40 93.71L274.90 93.74L276.40 93.76L277.90 93.79L279.40 93.81L280.90 93.84L282.40 93.87L283.90 93.90L285.39 93.93L286.89 93.96L288.39 94.00L289.89 94.03L291.39 94.07L292.89 94.10L294.39 94.14L295.89 94.18L297.39 94.22L298.89 94.26L300.39 94.30L301.88 94.34L303.38 94.39L304.88 94.43L306.38 94.48L307.88 94.53L309.38 94.58L310.88 94.63L312.38 94.68L313.88 94.73L315.38 94.79L316.87 94.84L318.37 94.90L319.87 94.96L321.37 95.02L322.87 95.08L324.37 95.14L325.87 95.20L327.37 95.27L328.87 95.34L330.37 95.40L331.86 95.47L333.36 95.54L334.86 95.62L336.36 95.69L337.86 95.76L339.36 95.84L339.86 95.87" fill="none" stroke="#006400" stroke-width="2" stroke-dasharray="20.9 6.8 3.7 6.8" stroke-dashoffset="0"/>
<path d="M339.36 95.84L340.86 95.92L342.36 96.00L343.86 96.08L345.36 96.16L346.86 96.25L348.35 96.33L349.85 96.42L351.35 96.51L352.85 96.60L354.35 96.69L355.85 96.79L357.35 96.88L358.85 96.98L360.35 97.08L361.85 97.18L363.35 97.29L364.84 97.40L366.34 97.51L367.84 97.62L369.34 97.74L370.84 97.86L372.34 97.99L373.83 98.12L375.33 98.26L376.83 98.41L378.32 98.56L379.82 98.72L381.31 98.88L382.81 99.06L384.30 99.24L385.80 99.43L387.29 99.62L388.78 99.83L390.28 100.05L391.77 100.27L393.26 100.51L394.75 100.76L396.24 101.01L397.72 101.28L399.21 101.56L400.70 101.86L402.18 102.16L403.67 102.48L405.15 102.81L406.63 103.16L408.12 103.52L409.59 103.89L411.07 104.28L412.54 104.68L414.01 105.10L415.47 105.53L416.93 105.98L418.38 106.45L418.86 106.61" fill="none" stroke="#006400" stroke-width="2" stroke-dasharray="20.9 6.8 3.7 6.8" stroke-dashoffset="0"/>
<path d="M418.38 106.45L419.82 106.94L421.26 107.44L422.69 107.96L424.10 108.49L425.51 109.05L426.91 109.63L428.29 110.22L429.66 110.83L431.02 111.47L432.37 112.12L433.70 112.80L435.02 113.49L436.32 114.21L437.60 114.95L438.87 115.71L440.11 116.50L441.34 117.30L442.55 118.13L443.74 118.99L444.91 119.87L446.06 120.77L447.18 121.70L448.29 122.65L449.37 123.62L450.43 124.62L451.47 125.63L452.49 126.67L453.49 127.73L454.47 128.81L455.42 129.91L456.36 131.03L457.28 132.17L458.17 133.33L459.05 134.50L459.91 135.69L460.74 136.90L461.56 138.13L462.35 139.37L463.13 140.63L463.89 141.90L464.63 143.19L465.34 144.49L466.04 145.80L466.72 147.13L467.38 148.47L468.03 149.82L468.65 151.18L469.25 152.56L469.84 153.94L470.40 155.34L470.95 156.74L471.48 158.16L472.00 159.58L472.49 161.01L472.97 162.45L473.44 163.89L473.89 165.34L474.33 166.80L474.75 168.27L475.17 169.73L475.57 171.21L475.97 172.69L476.35 174.17L476.73 175.65L477.10 177.14L477.46 178.63L477.82 180.12L478.17 181.61L478.52 183.11L478.87 184.60L479.21 186.09L479.55 187.59L479.89 189.08L480.24 190.57L480.58 192.06L480.93 193.54L481.28 195.02L481.63 196.50L481.98 197.98L482.34 199.45L482.70 200.92L483.06 202.39L483.43 203.85L483.80 205.32L484.17 206.78L484.54 208.23L484.92 209.69L485.30 211.14L485.68 212.59L486.06 214.04L486.45 215.48L486.84 216.93L487.23 218.37L487.62 219.81L488.02 221.25L488.42 222.68L488.81 224.12L489.22 225.55L489.62 226.98L490.03 228.41L490.43 229.84L490.84 231.27L491.26 232.69L491.67 234.12L492.09 235.54L492.50 236.96L492.92 238.39L493.34 239.81L493.77 241.23L494.19 242.65L494.62 244.07L495.04 245.48L495.47 246.90L495.90 248.32L496.33 249.74L496.77 251.16L497.05 252.10" fill="none" stroke="#006400" stroke-width="2" stroke-dasharray="20.9 6.8 3.7 6.8" stroke-dashoffset="0"/>
<path d="M496.91 251.63L497.34 253.04L497.78 254.46L498.22 255.88L498.66 257.30L499.10 258.71L499.54 260.13L499.98 261.55L500.42 262.97L500.86 264.39L501.31 265.80L501.75 267.22L502.20 268.65L502.65 270.07L503.10 271.49L503.55 272.91L503.99 274.34L504.45 275.76L504.90 277.19L505.35 278.62L505.80 280.04L506.25 281.47L506.70 282.91L507.16 284.34L507.61 285.77L508.07 287.21L508.52 288.64L508.98 290.08L509.43 291.52L509.89 292.96L510.35 294.40L510.81 295.84L511.27 297.28L511.73 298.72L512.19 300.16L512.65 301.60L513.12 303.04L513.58 304.49L514.05 305.93L514.51 307.37L514.98 308.81L515.45 310.26L515.92 311.70L516.39 313.14L516.86 314.59L517.33 316.03L517.80 317.47L518.28 318.91L518.76 320.35L519.23 321.79L519.71 323.23L520.19 324.67L520.67 326.11L521.16 327.55L521.64 328.98L522.13 330.42L522.61 331.85L523.10 333.29L523.59 334.72L524.08 336.15L524.58 337.58L525.07 339.01L525.57 340.44L526.07 341.86L526.57 343.29L527.07 344.71L527.57 346.13L528.08 347.55L528.58 348.97L529.09 350.38L529.60 351.80L530.11 353.21L530.63 354.62L531.14 356.02L531.66 357.43L532.18 358.83L532.71 360.23L533.24 361.63L533.77 363.02L534.30 364.42L534.84 365.81L535.38 367.19L535.93 368.58L536.48 369.96L537.04 371.34L537.60 372.72L538.16 374.09L538.73 375.46L539.31 376.82L539.89 378.19L540.48 379.55L541.08 380.90L541.68 382.26L542.29 383.61L542.91 384.95L543.53 386.30L544.16 387.63L544.80 388.97L545.45 390.30L546.11 391.63L546.77 392.95L547.44 394.27L548.13 395.58L548.82 396.90L549.52 398.20L550.23 399.50L550.95 400.80L551.68 402.09L552.42 403.38L553.17 404.67L553.93 405.95L554.71 407.22L555.49 408.49L556.29 409.76L557.10 411.02L557.92 412.27L558.75 413.52L559.60 414.77L560.45 416.01L561.32 417.24L562.21 418.47L563.11 419.70L564.02 420.91L564.94 422.13L565.88 423.33L566.83 424.53L567.80 425.71L568.78 426.89L569.77 428.06L570.77 429.21L571.79 430.35L572.81 431.48L573.85 432.59L574.91 433.69L575.97 434.78" fill="none" stroke="#006400" stroke-width="2" stroke-dasharray="20.9 6.8 3.7 6.8" stroke-dashoffset="0"/>
<path d="M575.61 434.42L576.69 435.49L577.77 436.55L578.86 437.60L579.97 438.64L581.08 439.66L582.21 440.66L583.35 441.65L584.49 442.63L585.65 443.59L586.82 444.54L588.00 445.47L589.18 446.39L590.38 447.29L591.59 448.18L592.80 449.06L594.03 449.91L595.26 450.76L596.50 451.59L597.75 452.40L599.01 453.20L600.27 453.98L601.55 454.74L602.83 455.50L604.12 456.23L605.42 456.96L606.72 457.67L608.03 458.36L609.35 459.05L610.67 459.72L612.01 460.38L613.34 461.02L614.69 461.65L616.04 462.27L617.39 462.88L618.75 463.48L620.12 464.07L621.49 464.65L622.87 465.22L624.25 465.77L625.64 466.32L627.03 466.86L628.42 467.39L629.82 467.91L631.23 468.42L632.63 468.92L634.04 469.42L635.46 469.91L636.88 470.39L638.30 470.86L639.72 471.33L641.15 471.79L642.58 472.25L644.01 472.70L645.45 473.14L646.89 473.58L648.33 474.01L649.77 474.43L651.21 474.85L652.66 475.26L654.11 475.66L655.56 476.06L656.05 476.19" fill="none" stroke="#006400" stroke-width="2" stroke-dasharray="20.9 6.8 3.7 6.8" stroke-dashoffset="0"/>
<path d="M655.56 476.06L657.02 476.46L658.47 476.84L659.93 477.22L661.39 477.60L662.85 477.97L664.32 478.33L665.78 478.69L667.25 479.04L668.72 479.38L670.19 479.72L671.66 480.06L673.13 480.38L674.61 480.71L676.08 481.02L677.56 481.33L679.04 481.64L680.52 481.93L682.00 482.23L683.48 482.51L684.97 482.79L686.45 483.07L687.93 483.34L689.42 483.60L690.91 483.86L692.39 484.12L693.88 484.36L695.37 484.61L696.86 484.84L698.34 485.07L699.83 485.30L701.32 485.52L702.81 485.73L704.30 485.94L705.79 486.14L707.28 486.34L708.77 486.53L710.26 486.72L711.75 486.90L713.24 487.08L714.73 487.25L716.22 487.42L717.71 487.58L719.20 487.73L720.68 487.88L722.17 488.03L723.66 488.17L725.14 488.30L726.63 488.43L728.11 488.56L729.59 488.68L731.08 488.79L732.56 488.90L734.04 489.00L735.52 489.10" fill="none" stroke="#006400" stroke-width="2" stroke-dasharray="20.9 6.8 3.7 6.8" stroke-dashoffset="0"/>
<path d="M735.02 489.07L736.50 489.17L736.99 489.20" fill="none" stroke="#006400" stroke-width="2" stroke-dasharray="20.9 6.8 3.7 6.8" stroke-dashoffset="0"/>
<path d="M103.91 93.60L105.41 93.60L106.90 93.60L108.40 93.60L109.90 93.61L111.40 93.62L112.89 93.63L114.39 93.63L115.89 93.64L117.39 93.65L118.89 93.65L120.39 93.65L121.88 93.66L123.38 93.66L124.88 93.66L126.38 93.66L127.88 93.66L129.38 93.66L130.88 93.66L132.38 93.66L133.88 93.66L135.38 93.65L136.88 93.65L138.38 93.64L139.88 93.64L141.38 93.64L142.88 93.63L144.39 93.63L145.89 93.62L147.39 93.61L148.89 93.61L150.39 93.60L151.89 93.60L153.39 93.60L154.90 93.60L156.40 93.60L157.90 93.60L159.40 93.60L160.90 93.60L162.41 93.60L163.91 93.60L165.41 93.60L166.91 93.60L168.41 93.60L169.92 93.60L171.42 93.60L172.92 93.60L174.42 93.60L175.93 93.60L177.43 93.60L178.93 93.60L180.43 93.60L181.94 93.60L183.44 93.60L184.94 93.60L186.44 93.60L187.95 93.60L189.45 93.60L190.95 93.60L192.45 93.60L193.96 93.60L195.46 93.60L196.96 93.60L198.46 93.60L199.97 93.60L201.47 93.60L202.97 93.60L204.47 93.60L205.98 93.60L207.48 93.60L208.98 93.60L210.48 93.60L211.98 93.60L213.49 93.60L214.99 93.60L216.49 93.60L217.99 93.60L219.49 93.60L220.99 93.60L222.49 93.60L224.00 93.60L225.50 93.60L227.00 93.62L228.50 93.64L230.00 93.66L231.50 93.68L233.00 93.71L234.50 93.73L236.00 93.76L237.50 93.79L239.00 93.82L240.50 93.85L242.00 93.88L243.50 93.91L245.00 93.95L246.50 93.99L247.99 94.03L249.49 94.07L250.99 94.11L252.49 94.15L253.99 94.20L255.49 94.25L256.98 94.30L258.48 94.35L259.98 94.40L261.47 94.46L262.97 94.51L264.47 94.57L265.96 94.63L267.46 94.70L268.96 94.76L270.45 94.83L271.95 94.90L273.44 94.97L274.94 95.04L276.43 95.12L277.92 95.19L279.42 95.27L280.91 95.36L282.41 95.44L283.90 95.53L285.39 95.62L286.88 95.71L288.38 95.80L289.87 95.90L291.36 96.00L292.85 96.10L294.34 96.20L295.83 96.31L297.32 96.41L298.81 96.53L300.30 96.64L301.79 96.76L303.28 96.87L304.77 97.00L306.26 97.12L307.75 97.25L309.23 97.38L310.72 97.51L312.21 97.65L313.69 97.79L315.18 97.93L316.67 98.08L318.15 98.23L319.64 98.39L321.12 98.55L322.60 98.71L324.09 98.89L325.57 99.06L327.05 99.25L328.53 99.44L330.01 99.64L331.49 99.85L332.97 100.06L334.45 100.28L335.92 100.52L337.40 100.75L338.88 101.00L340.35 101.26L341.82 101.53L343.30 101.81L344.77 102.10L346.24 102.40L347.71 102.71L349.18 103.03L350.64 103.37L352.11 103.72L353.58 104.08L355.04 104.45L356.50 104.84L357.96 105.24L359.42 105.65L360.88 106.08L362.34 106.52L363.79 106.98L365.25 107.44L366.70 107.93L368.14 108.42L369.58 108.93L371.02 109.45L372.45 109.98L373.88 110.52L375.31 111.08L376.73 111.65L378.14 112.23L379.55 112.82L380.95 113.42L382.34 114.03L383.72 114.66L385.10 115.29L386.47 115.94L387.83 116.60L389.18 117.27L390.52 117.96L391.85 118.66L393.16 119.38L394.46 120.12L395.75 120.87L397.02 121.65L398.27 122.44L399.51 123.25L400.73 124.09L401.94 124.94L403.12 125.82L404.29 126.71L405.44 127.63L406.58 128.57L407.70 129.52L408.80 130.49L409.89 131.48L410.96 132.49L412.02 133.51L413.06 134.55L414.09 135.60L415.10 136.67L416.11 137.76L417.09 138.86L418.07 139.97L419.03 141.10L419.98 142.23L420.91 143.38L421.84 144.55L422.75 145.72L423.65 146.90L424.54 148.10L425.42 149.30L426.29 150.52L427.15 151.74L427.99 152.98L428.83 154.22L429.66 155.47L430.49 156.73L431.30 158.00L432.10 159.27L432.90 160.55L433.69 161.84L434.47 163.13L435.24 164.43L436.01 165.73L436.77 167.04L437.53 168.35L438.28 169.67L439.02 170.99L439.76 172.32L440.49 173.65L441.22 174.98L441.94 176.31L442.66 177.64L443.38 178.98L444.09 180.32L444.80 181.66L445.51 183.00L446.21 184.34L446.92 185.68L447.61 187.02L448.31 188.36L449.00 189.70L449.69 191.05L450.38 192.39L451.06 193.74L451.74 195.08L452.42 196.43L453.10 197.77L453.77 199.12L454.44 200.47L455.11 201.82L455.77 203.17L456.43 204.52L457.09 205.87L457.75 207.22L458.41 208.58L459.06 209.93L459.71 211.28L460.36 212.64L461.00 213.99L461.65 215.35L462.29 216.71L462.93 218.06L463.56 219.42L464.20 220.78L464.83 222.14L465.46 223.50L466.09 224.86L466.71 226.22L467.34 227.58L467.96 228.94L468.58 230.30L469.20 231.67L469.82 233.03L470.43 234.39L471.04 235.76L471.65 237.13L472.26 238.49L472.87 239.86L473.48 241.23L474.08 242.59L474.68 243.96L475.28 245.33L475.88 246.70L476.48 248.07L477.08 249.44L477.67 250.81L478.26 252.18L478.86 253.56L479.45 254.93L480.04 256.30L480.62 257.67L481.21 259.05L481.80 260.42L482.38 261.80L482.96 263.17L483.54 264.55L484.12 265.93L484.70 267.30L485.28 268.68L485.86 270.06L486.44 271.44L487.01 272.82L487.59 274.20L488.16 275.58L488.73 276.96L489.30 278.34L489.87 279.72L490.44 281.10L491.01 282.48L491.58 283.87L492.15 285.25L492.72 286.63L493.28 288.02L493.85 289.40L494.41 290.79L494.98 292.17L495.54 293.56L496.11 294.94L496.67 296.33L497.23 297.72L497.80 299.10L498.36 300.49L498.92 301.88L499.48 303.27L500.04 304.66L500.60 306.05L501.17 307.44L501.73 308.83L502.29 310.22L502.85 311.61L503.41 313.00L503.97 314.39L504.53 315.78L505.09 317.17L505.65 318.56L506.21 319.96L506.77 321.35L507.33 322.74L507.90 324.13L508.46 325.52L509.02 326.92L509.59 328.31L510.15 329.70L510.72 331.09L511.29 332.48L511.86 333.87L512.43 335.26L513.00 336.65L513.57 338.04L514.15 339.43L514.72 340.82L515.30 342.20L515.88 343.59L516.46 344.97L517.05 346.36L517.63 347.74L518.22 349.12L518.81 350.50L519.41 351.88L520.00 353.26L520.60 354.64L521.20 356.01L521.81 357.38L522.41 358.76L523.02 360.13L523.64 361.50L524.25 362.86L524.87 364.23L525.49 365.59L526.12 366.95L526.75 368.31L527.38 369.67L528.02 371.03L528.66 372.38L529.31 373.73L529.96 375.08L530.61 376.43L531.27 377.77L531.93 379.11L532.60 380.45L533.27 381.79L533.94 383.13L534.62 384.46L535.31 385.79L536.00 387.11L536.69 388.44L537.39 389.76L538.10 391.08L538.81 392.39L539.52 393.70L540.24 395.01L540.97 396.31L541.70 397.62L542.44 398.92L543.18 400.21L543.93 401.50L544.69 402.79L545.45 404.07L546.23 405.35L547.00 406.62L547.79 407.89L548.59 409.15L549.40 410.41L550.21 411.65L551.04 412.89L551.88 414.13L552.73 415.35L553.60 416.57L554.48 417.77L555.37 418.97L556.27 420.15L557.19 421.33L558.12 422.49L559.07 423.64L560.03 424.78L561.00 425.91L561.99 427.03L563.00 428.13L564.01 429.22L565.05 430.29L566.09 431.35L567.15 432.40L568.23 433.43L569.32 434.45L570.42 435.45L571.53 436.44L572.66 437.42L573.80 438.38L574.94 439.33L576.10 440.27L577.28 441.19L578.46 442.10L579.65 442.99L580.85 443.87L582.06 444.74L583.28 445.60L584.51 446.44L585.74 447.27L586.99 448.09L588.24 448.89L589.51 449.68L590.78 450.46L592.06 451.23L593.35 451.99L594.64 452.73L595.94 453.47L597.25 454.19L598.57 454.90L599.89 455.60L601.22 456.29L602.56 456.97L603.90 457.64L605.25 458.30L606.60 458.95L607.96 459.59L609.33 460.22L610.70 460.83L612.07 461.44L613.45 462.04L614.84 462.63L616.23 463.21L617.62 463.79L619.02 464.35L620.42 464.91L621.83 465.45L623.24 465.99L624.65 466.52L626.06 467.04L627.48 467.56L628.90 468.06L630.33 468.56L631.76 469.05L633.18 469.54L634.61 470.02L636.05 470.49L637.48 470.95L638.92 471.41L640.35 471.86L641.79 472.30L643.23 472.74L644.67 473.17L646.11 473.60L647.55 474.02L648.99 474.43L650.44 474.84L651.88 475.24L653.33 475.63L654.77 476.02L656.22 476.40L657.67 476.78L659.12 477.15L660.57 477.52L662.02 477.88L663.48 478.23L664.93 478.58L666.39 478.92L667.84 479.26L669.30 479.59L670.76 479.91L672.22 480.23L673.68 480.54L675.14 480.85L676.61 481.16L678.07 481.45L679.53 481.74L681.00 482.03L682.47 482.31L683.94 482.59L685.40 482.86L686.87 483.12L688.35 483.38L689.82 483.64L691.29 483.89L692.77 484.13L694.24 484.37L695.72 484.60L697.20 484.83L698.68 485.06L700.16 485.28L701.64 485.49L703.12 485.70L704.60 485.90L706.09 486.10L707.57 486.30L709.06 486.49L710.55 486.67L712.03 486.85L713.52 487.03L715.01 487.20L716.51 487.37L718.00 487.53L719.49 487.69L720.99 487.84L722.48 487.99L723.98 488.13L725.48 488.27L726.98 488.41L728.48 488.54L729.98 488.67L731.48 488.79L732.99 488.91L734.49 489.02L736.00 489.13L737.00 489.20" fill="none" stroke="#CC0000" stroke-width="2"/></g>
<rect x="103.9" y="51.8" width="633.1" height="459.6" fill="none" stroke="#000" stroke-width="1.6"/>
<text transform="translate(96.38,534.9) scale(1,1.04)">50</text><text transform="translate(175.52,534.9) scale(1,1.04)">75</text><path d="M256.87 534.90L256.87 522.31L255.04 522.31Q254.26 524.53 250.83 524.76L250.83 526.60L254.03 526.60L254.03 534.90Z" fill="#000"/><text transform="translate(259.47,534.9) scale(1,1.04)">00</text><path d="M336.01 534.90L336.01 522.31L334.17 522.31Q333.40 524.53 329.97 524.76L329.97 526.60L333.17 526.60L333.17 534.90Z" fill="#000"/><text transform="translate(338.60,534.9) scale(1,1.04)">25</text><path d="M415.15 534.90L415.15 522.31L413.31 522.31Q412.53 524.53 409.11 524.76L409.11 526.60L412.31 526.60L412.31 534.90Z" fill="#000"/><text transform="translate(417.74,534.9) scale(1,1.04)">50</text><path d="M494.28 534.90L494.28 522.31L492.45 522.31Q491.67 524.53 488.25 524.76L488.25 526.60L491.45 526.60L491.45 534.90Z" fill="#000"/><text transform="translate(496.88,534.9) scale(1,1.04)">75</text><text transform="translate(566.40,534.9) scale(1,1.04)">200</text><text transform="translate(645.53,534.9) scale(1,1.04)">225</text><text transform="translate(724.67,534.9) scale(1,1.04)">250</text><text transform="translate(83.78,517.8) scale(1,1.04)">0</text><text transform="translate(751.80,517.8) scale(1,1.04)">0</text><text transform="translate(69.35,434.2) scale(1,1.04)">0.2</text><text transform="translate(751.80,434.2) scale(1,1.04)">0.2</text><text transform="translate(69.35,350.7) scale(1,1.04)">0.4</text><text transform="translate(751.80,350.7) scale(1,1.04)">0.4</text><text transform="translate(69.35,267.1) scale(1,1.04)">0.6</text><text transform="translate(751.80,267.1) scale(1,1.04)">0.6</text><text transform="translate(69.35,183.5) scale(1,1.04)">0.8</text><text transform="translate(751.80,183.5) scale(1,1.04)">0.8</text><path d="M90.80 100.00L90.80 87.41L88.97 87.41Q88.19 89.63 84.77 89.86L84.77 91.70L87.97 91.70L87.97 100.00Z" fill="#000"/><path d="M758.82 100.00L758.82 87.41L756.99 87.41Q756.21 89.63 752.79 89.86L752.79 91.70L755.99 91.70L755.99 100.00Z" fill="#000"/>
<text transform="translate(368.2,30) scale(1,1.04)">m<tspan class="sym" font-size="14" dy="4.5">σ</tspan><tspan dy="-4.5">=500 MeV</tspan></text>
<text transform="translate(420.3,560.3) scale(1,1.04)" text-anchor="middle">T(MeV)</text>
<text transform="translate(39.5,296.4) rotate(-90) scale(1,1.04)"><tspan class="sym" font-size="19">σ</tspan><tspan class="sym">/</tspan>f<tspan class="sym" font-size="13.5" dy="4.5" dx="-1.2">π</tspan></text>
<text transform="translate(301.2,235.6) scale(1,1.04)" text-anchor="end">Log-PQM</text>
<path d="M311 229.8H360.4" fill="none" stroke="#800080" stroke-width="2" stroke-dasharray="13.9 6.8" stroke-dashoffset="0"/>
<text transform="translate(301.2,256.4) scale(1,1.04)" text-anchor="end">PolyLog-glue-PQM</text>
<path d="M311 250.6H360.4" fill="none" stroke="#0080FF" stroke-width="2" stroke-dasharray="21 6.6 3.8 6.6 3.8 6.6" stroke-dashoffset="38.0"/>
<text transform="translate(301.2,277.3) scale(1,1.04)" text-anchor="end">Log-PQMVT</text>
<path d="M311 271.5H360.4" fill="none" stroke="#000" stroke-width="0.9" stroke-dasharray="2.4 3.4" stroke-dashoffset="0"/>
<text transform="translate(301.2,297.9) scale(1,1.04)" text-anchor="end">PolyLog-glue-PQMVT</text>
<path d="M311 292.1H360.4" fill="none" stroke="#000080" stroke-width="1.85" stroke-dasharray="6.1 8.2" stroke-dashoffset="0"/>
<text transform="translate(301.2,318.8) scale(1,1.04)" text-anchor="end">Log-RPQM</text>
<path d="M311 313H360.4" fill="none" stroke="#006400" stroke-width="2" stroke-dasharray="20.9 6.8 3.7 6.8" stroke-dashoffset="0"/>
<text transform="translate(301.2,339.6) scale(1,1.04)" text-anchor="end">PolyLog-glue-RPQM</text>
<path d="M311 333.8H360.4" fill="none" stroke="#CC0000" stroke-width="2"/>
</svg>
</body></html>
